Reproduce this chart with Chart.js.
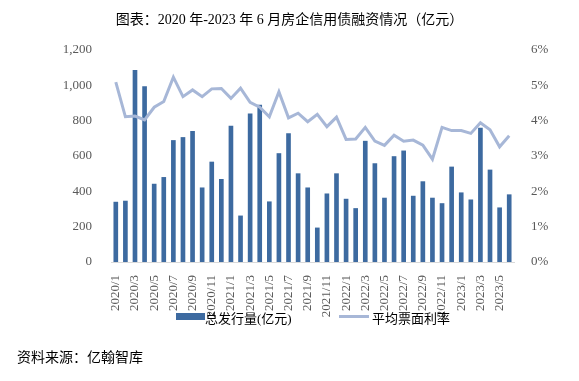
<!DOCTYPE html>
<html>
<head>
<meta charset="utf-8">
<script src="https://cdn.jsdelivr.net/npm/chart.js@4.4.1/dist/chart.umd.min.js"></script>
<style>
  body { margin: 0; background: #fff; }
  #wrap { position: relative; width: 579px; height: 381px; overflow: hidden;
          font-family: "Liberation Serif", "Noto Sans CJK SC", serif; color: #000; }
  #chart { position: absolute; left: 0; top: 0; }
  .abs { position: absolute; white-space: nowrap; }
  #title { left: 0; width: 579px; top: 8px; text-align: center; font-size: 14px; }
  #src { left: 17px; top: 346px; font-size: 14px; }
  .leg { font-size: 13px; top: 308px; }
  .sw { position: absolute; }
</style>
</head>
<body>
<div id="wrap">
  <canvas id="chart" width="579" height="381"></canvas>
  <div class="abs" id="title">图表：2020 年-2023 年 6 月房企信用债融资情况（亿元）</div>
  <div class="sw" style="left:176px;top:313px;width:29px;height:7px;background:#3d6aa0;"></div>
  <div class="abs leg" style="left:205px;">总发行量(亿元)</div>
  <div class="sw" style="left:339px;top:315px;width:30px;height:3px;background:#a7b7d7;"></div>
  <div class="abs leg" style="left:372px;">平均票面利率</div>
  <div class="abs" id="src">资料来源：亿翰智库</div>
</div>
<script>
// months 2020/1 - 2023/6
const months = [];
for (let y = 2020; y <= 2023; y++) {
    for (let m = 1; m <= 12; m++) {
        if (y === 2023 && m > 6) break;
        months.push(y + "/" + m);
    }
}

// 总发行量 (亿元)
const issueAmount = [
    339, 345, 1085, 993, 441, 479, 688, 705, 739, 420, 566, 468,
    769, 261, 839, 888, 341, 614, 727, 500, 420, 193, 386, 500,
    356, 303, 684, 557, 362, 597, 629, 373, 455, 362, 331, 538,
    392, 352, 758, 521, 307, 381
];

// 平均票面利率 (%)
const avgRate = [
    5.09, 4.11, 4.13, 4.02, 4.38, 4.54, 5.23, 4.68, 4.87, 4.68, 4.90, 4.91,
    4.63, 4.92, 4.52, 4.38, 4.11, 4.82, 4.08, 4.21, 3.97, 4.18, 3.83, 4.10,
    3.47, 3.48, 3.81, 3.42, 3.30, 3.59, 3.42, 3.45, 3.31, 2.91, 3.81, 3.72,
    3.72, 3.64, 3.94, 3.74, 3.26, 3.57
];

const tickFont = { family: "'Liberation Serif', serif", size: 13 };
const tickColor = "#595959";

new Chart(document.getElementById("chart"), {
    data: {
        labels: months,
        datasets: [
            {
                type: "line",
                label: "平均票面利率",
                data: avgRate,
                yAxisID: "yRight",
                borderColor: "#a7b7d7",
                borderWidth: 3,
                pointRadius: 0,
                tension: 0,
                order: 0
            },
            {
                type: "bar",
                label: "总发行量(亿元)",
                data: issueAmount,
                yAxisID: "yLeft",
                backgroundColor: "#3d6aa0",
                barThickness: 4,
                order: 1
            }
        ]
    },
    options: {
        responsive: false,
        animation: false,
        layout: { padding: { top: 50, left: 0, right: 0, bottom: 0 } },
        plugins: { legend: { display: false }, tooltip: { enabled: false } },
        scales: {
            x: {
                grid: { display: false },
                border: { display: true, color: "#d9d9d9", width: 1 },
                ticks: {
                    autoSkip: false,
                    maxRotation: 90,
                    minRotation: 90,
                    padding: 5,
                    color: tickColor,
                    font: tickFont,
                    callback: function (val, i) { return i % 2 === 0 ? months[i] : ""; }
                },
                afterFit: function (scale) { scale.height = 119; }
            },
            yLeft: {
                position: "left",
                min: 0,
                max: 1200,
                grid: { display: false },
                border: { display: false },
                ticks: {
                    stepSize: 200,
                    padding: 11,
                    color: tickColor,
                    font: tickFont,
                    callback: v => v.toLocaleString("en-US")
                },
                afterFit: function (scale) { scale.width = 111; }
            },
            yRight: {
                position: "right",
                min: 0,
                max: 6,
                grid: { display: false },
                border: { display: false },
                ticks: {
                    stepSize: 1,
                    padding: 9,
                    color: tickColor,
                    font: tickFont,
                    callback: v => v + "%"
                },
                afterFit: function (scale) { scale.width = 65; }
            }
        }
    }
});
</script>
</body>
</html>
